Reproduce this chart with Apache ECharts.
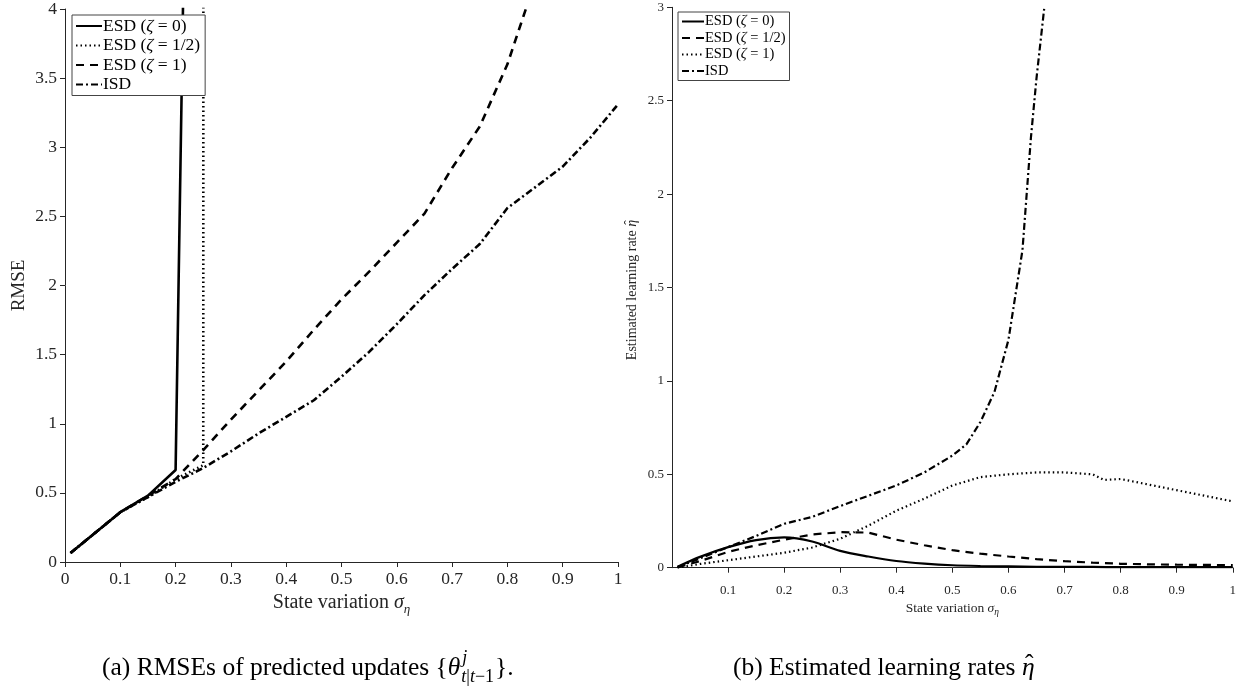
<!DOCTYPE html>
<html><head><meta charset="utf-8">
<script src="https://cdn.jsdelivr.net/npm/echarts@6/dist/echarts.min.js"></script>
<style>html,body{margin:0;padding:0;background:#fff;}#c{width:1239px;height:698px;}</style>
</head><body><div id="c"></div>
<script>
// ---------- data: (a) RMSE ----------
const aEsd0X    = [0.01, 0.1, 0.15, 0.2, 0.25];
const aEsd0Y    = [0.065, 0.36, 0.48, 0.665, 13.2];
const aEsdHalfX = [0.01, 0.1, 0.15, 0.2, 0.25, 0.3];
const aEsdHalfY = [0.065, 0.36, 0.47, 0.60, 0.70, 800];
const aEsd1X    = [0.01, 0.1, 0.15, 0.2, 0.25, 0.3, 0.35, 0.4, 0.45, 0.5, 0.55, 0.6, 0.65, 0.7, 0.75, 0.8, 0.85];
const aEsd1Y    = [0.065, 0.36, 0.48, 0.60, 0.81, 1.03, 1.24, 1.45, 1.68, 1.90, 2.10, 2.31, 2.52, 2.85, 3.15, 3.60, 4.20];
const aIsdX     = [0.01, 0.1, 0.15, 0.2, 0.25, 0.3, 0.35, 0.4, 0.45, 0.5, 0.55, 0.6, 0.65, 0.7, 0.75, 0.8, 0.85, 0.9, 0.95, 1.0];
const aIsdY     = [0.065, 0.36, 0.47, 0.58, 0.68, 0.80, 0.93, 1.05, 1.17, 1.34, 1.52, 1.72, 1.93, 2.12, 2.30, 2.56, 2.71, 2.86, 3.07, 3.31];

// ---------- data: (b) learning rates ----------
const bX        = [0.01, 0.05, 0.1, 0.15, 0.2, 0.25, 0.3, 0.35, 0.4, 0.45, 0.5, 0.55, 0.6, 0.65, 0.7, 0.75, 0.8, 0.85, 0.9, 0.95, 1.0];
const bEsd0Y    = [0.005, 0.058, 0.11, 0.148, 0.162, 0.14, 0.09, 0.06, 0.036, 0.022, 0.013, 0.009, 0.007, 0.005, 0.004, 0.004, 0.003, 0.003, 0.003, 0.003, 0.003];
const bEsdHalfY = [0.003, 0.035, 0.085, 0.12, 0.15, 0.178, 0.19, 0.188, 0.15, 0.12, 0.094, 0.075, 0.06, 0.046, 0.035, 0.027, 0.021, 0.018, 0.016, 0.015, 0.014];
const bEsd1X    = [0.01, 0.05, 0.1, 0.15, 0.2, 0.25, 0.3, 0.35, 0.4, 0.45, 0.5, 0.55, 0.6, 0.65, 0.7, 0.75, 0.77, 0.8, 0.85, 0.9, 0.95, 1.0];
const bEsd1Y    = [0.0, 0.02, 0.04, 0.06, 0.08, 0.108, 0.155, 0.225, 0.305, 0.37, 0.44, 0.485, 0.50, 0.51, 0.51, 0.50, 0.47, 0.475, 0.445, 0.415, 0.385, 0.355];
const bIsdX     = [0.01, 0.05, 0.1, 0.15, 0.2, 0.25, 0.3, 0.35, 0.4, 0.45, 0.5, 0.525, 0.55, 0.575, 0.6, 0.625, 0.64, 0.65, 0.675];
const bIsdY     = [0.003, 0.05, 0.11, 0.17, 0.235, 0.272, 0.33, 0.385, 0.44, 0.51, 0.60, 0.66, 0.78, 0.94, 1.22, 1.70, 2.30, 2.62, 3.30];

const legendLabels = ['ESD ({i|ζ} = 0)', 'ESD ({i|ζ} = 1/2)', 'ESD ({i|ζ} = 1)', 'ISD'];

const pairs = (xs, ys) => xs.map((x, i) => [x, ys[i]]);
const FONT = '"Liberation Serif", "DejaVu Serif", serif';
const AX = '#262626';

const lineStyles = {
  solid:   {type: 'solid'},
  dotted:  {type: [1.5, 3], cap: 'butt'},
  dashed:  {type: [8, 6]},
  dashdot: {type: [7, 3, 2, 3]}
};
function mkSeries(name, data, style, idx, width, smooth) {
  return {
    name, type: 'line', data, xAxisIndex: idx, yAxisIndex: idx,
    showSymbol: false, symbol: 'none', clip: true, animation: false, smooth: smooth || false,
    itemStyle: {color: '#000'},
    lineStyle: Object.assign({color: '#000', width: width}, lineStyles[style])
  };
}

const series = [
  mkSeries('a0', pairs(aEsd0X, aEsd0Y), 'solid', 0, 2.6),
  mkSeries('aH', pairs(aEsdHalfX, aEsdHalfY), 'dotted', 0, 2.6),
  mkSeries('a1', pairs(aEsd1X, aEsd1Y), 'dashed', 0, 2.6),
  mkSeries('aI', pairs(aIsdX, aIsdY), 'dashdot', 0, 2.6),
  mkSeries('b0', pairs(bX, bEsd0Y), 'solid', 1, 2.2, 0.3),
  mkSeries('bH', pairs(bX, bEsdHalfY), 'dashed', 1, 2.2),
  mkSeries('b1', pairs(bEsd1X, bEsd1Y), 'dotted', 1, 2.2),
  mkSeries('bI', pairs(bIsdX, bIsdY), 'dashdot', 1, 2.2)
];

const nameMapA = {a0: legendLabels[0], aH: legendLabels[1], a1: legendLabels[2], aI: legendLabels[3]};
const nameMapB = {b0: legendLabels[0], bH: legendLabels[1], b1: legendLabels[2], bI: legendLabels[3]};

function axisCommon(fs, margin) {
  return {
    axisLine: {show: true, lineStyle: {color: AX, width: 1}},
    axisTick: {show: true, inside: false, length: 5, lineStyle: {color: AX, width: 1}},
    axisLabel: {color: AX, fontFamily: FONT, fontSize: fs, margin: margin},
    splitLine: {show: false}
  };
}

const chart = echarts.init(document.getElementById('c'), null, {renderer: 'canvas'});

const option = {
  backgroundColor: '#fff',
  animation: false,
  grid: [
    {left: 65, top: 8, width: 553, height: 554, containLabel: false},
    {left: 672, top: 7.3, width: 561, height: 560.4, containLabel: false}
  ],
  legend: [
    {
      data: ['a0', 'aH', 'a1', 'aI'], orient: 'vertical', left: 72, top: 15,
      itemWidth: 26, itemHeight: 12, itemGap: 1.5,
      itemStyle: {opacity: 0},
      borderColor: '#444', borderWidth: 1, backgroundColor: '#fff', padding: [2, 5, 2, 3],
      formatter: n => nameMapA[n], selectedMode: false,
      textStyle: {fontFamily: FONT, fontSize: 17.5, color: '#000', padding: [0, 0, 0, -4],
        rich: {i: {fontFamily: FONT, fontSize: 17.5, fontStyle: 'italic', color: '#000'}}}
    },
    {
      data: ['b0', 'bH', 'b1', 'bI'], orient: 'vertical', left: 678, top: 12,
      itemWidth: 22, itemHeight: 10, itemGap: 1.5,
      itemStyle: {opacity: 0},
      borderColor: '#444', borderWidth: 1, backgroundColor: '#fff', padding: [2, 4, 2, 3],
      formatter: n => nameMapB[n], selectedMode: false,
      textStyle: {fontFamily: FONT, fontSize: 14.5, color: '#000', padding: [0, 0, 0, -4],
        rich: {i: {fontFamily: FONT, fontSize: 14.5, fontStyle: 'italic', color: '#000'}}}
    }
  ],
  xAxis: [
    Object.assign(axisCommon(17.5, 8), {
      type: 'value', gridIndex: 0, min: 0, max: 1, interval: 0.1,
      name: 'State variation {i|σ}{s|η}', nameLocation: 'middle', nameGap: 22,
      nameTextStyle: {fontFamily: FONT, fontSize: 20, color: AX,
        rich: {i: {fontFamily: FONT, fontSize: 20, fontStyle: 'italic', color: AX, lineHeight: 26},
               s: {fontFamily: FONT, fontSize: 13, fontStyle: 'italic', color: AX, lineHeight: 26, verticalAlign: 'bottom', padding: [7, 0, 0, 0]}}}
    }),
    Object.assign(axisCommon(13, 16), {
      type: 'value', gridIndex: 1, min: 0, max: 1, interval: 0.1,
      name: 'State variation {i|σ}{s|η}', nameLocation: 'middle', nameGap: 31,
      nameTextStyle: {fontFamily: FONT, fontSize: 13.5, color: AX,
        rich: {i: {fontFamily: FONT, fontSize: 13.5, fontStyle: 'italic', color: AX, lineHeight: 18},
               s: {fontFamily: FONT, fontSize: 9.5, fontStyle: 'italic', color: AX, lineHeight: 18, verticalAlign: 'bottom', padding: [5, 0, 0, 0]}}}
    })
  ],
  yAxis: [
    Object.assign(axisCommon(17.5, 8), {
      type: 'value', gridIndex: 0, min: 0, max: 4, interval: 0.5,
      name: 'RMSE', nameLocation: 'middle', nameGap: 36,
      nameTextStyle: {fontFamily: FONT, fontSize: 19, color: AX}
    }),
    Object.assign(axisCommon(13, 8), {
      type: 'value', gridIndex: 1, min: 0, max: 3, interval: 0.5
    })
  ],
  series: series
};
option.xAxis[1].axisLabel.showMinLabel = false;
chart.setOption(option);

// ---------- captions & right y-axis name ----------
const ctx = document.createElement('canvas').getContext('2d');
function w(text, size, italic) {
  ctx.font = (italic ? 'italic ' : '') + size + 'px ' + FONT;
  return ctx.measureText(text).width;
}
const CS = 25.5, SS = 18, CY = 668;
const els = [];
function tEl(text, x, y, size, italic, color) {
  return {type: 'text', x: x, y: y, style: {text: text, fontFamily: FONT, fontSize: size,
    fontStyle: italic ? 'italic' : 'normal', fill: color || '#000', align: 'left', verticalAlign: 'middle'}};
}
function t(text, x, y, size, italic) {
  els.push(tEl(text, x, y, size, italic));
  return w(text, size, italic);
}
let x = 102;
x += t('(a) RMSEs of predicted updates {', x, CY, CS, false);
x += t('θ', x, CY, CS, true);
const sx = x + 1;
const supW = t('j', sx + 1, CY - 10, SS, true);
let bx = sx;
bx += t('t', bx, CY + 9, SS, true);
bx += t('|', bx, CY + 9, SS, false);
bx += t('t', bx, CY + 9, SS, true);
bx += t('−1', bx, CY + 9, SS, false);
x = Math.max(bx, sx + supW) + 1;
t('}.', x, CY, CS, false);

let x2 = 733;
x2 += t('(b) Estimated learning rates ', x2, CY, CS, false);
t('η', x2, CY, CS, true);
t('ˆ', x2 + 3, CY - 3, CS, false);

// rotated y-axis name for (b)
const YS = 14;
const yMain = 'Estimated learning rate ';
const wMain = w(yMain, YS, false), wEta = w('η', YS, true);
const total = wMain + wEta;
els.push({
  type: 'group', x: 632, y: 290, rotation: Math.PI / 2,
  children: [
    tEl(yMain, -total / 2, 0, YS, false, AX),
    tEl('η', -total / 2 + wMain, 0, YS, true, AX),
    tEl('ˆ', -total / 2 + wMain + 2, -2, YS, false, AX)
  ]
});

chart.setOption({graphic: els});
</script></body></html>
